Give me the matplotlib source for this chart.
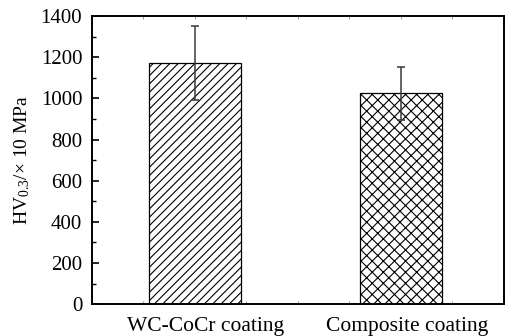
import numpy as np
import matplotlib
matplotlib.use("Agg")
import matplotlib.pyplot as plt
from matplotlib.ticker import MultipleLocator

# data
coatings = ["WC-CoCr coating", "Composite coating"]
hardness = [1170, 1025]
hardness_err = [180, 130]
hatches = ["////", "xxx"]

plt.rcParams["font.family"] = ["Liberation Serif", "DejaVu Serif"]
plt.rcParams["mathtext.fontset"] = "custom"
plt.rcParams["mathtext.rm"] = "Liberation Serif"
plt.rcParams["mathtext.it"] = "Liberation Serif:italic"
plt.rcParams["hatch.linewidth"] = 0.8

fig = plt.figure(figsize=(5.05, 3.36), dpi=100)
ax = fig.add_axes([0.182, 0.095, 0.816, 0.857])

x = np.arange(1, len(coatings) + 1)
widths = [0.45, 0.40]
for i in range(len(coatings)):
    ax.bar(x[i], hardness[i], width=widths[i], color="white", edgecolor="black",
           linewidth=0.9, hatch=hatches[i], zorder=2)
ax.errorbar(x, hardness, yerr=hardness_err, fmt="none", ecolor="#3a3a3a",
            elinewidth=1.1, capsize=2.6, capthick=1.1, zorder=3)

ax.set_xlim(0.5, 2.5)
ax.set_ylim(0, 1400)
# labels sit a little right of the bar centres in the original
ax.set_xticks(x + np.array([0.05, 0.03]))
ax.set_xticklabels(coatings, fontsize=15.5)
ax.xaxis.set_minor_locator(MultipleLocator(0.25))
ax.yaxis.set_major_locator(MultipleLocator(200))
ax.yaxis.set_minor_locator(MultipleLocator(100))
ax.tick_params(axis="y", which="major", direction="in", length=5, width=1.2, labelsize=15, pad=7)
ax.tick_params(axis="y", which="minor", direction="in", length=3, width=1.0)
ax.tick_params(axis="x", which="major", length=0, labelsize=15.5, pad=9)
ax.tick_params(axis="x", which="minor", direction="in", length=2, width=0.6,
               color="#888888", top=True)
for s in ax.spines.values():
    s.set_linewidth(1.4)

ax.set_ylabel(r"HV$_{0.3}$/$\times$ 10 MPa", fontsize=14, labelpad=6)

fig.savefig("out.png", dpi=100)
